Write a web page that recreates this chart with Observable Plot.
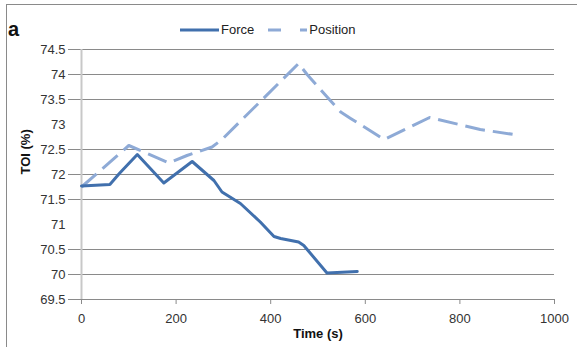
<!DOCTYPE html>
<html>
<head>
<meta charset="utf-8">
<script src="https://cdn.jsdelivr.net/npm/d3@7"></script>
<script src="https://cdn.jsdelivr.net/npm/@observablehq/plot@0.6"></script>
<style>
  html, body { margin: 0; padding: 0; background: #fff; }
  body { width: 577px; height: 347px; position: relative; overflow: hidden; font-family: "Liberation Sans", Arial, sans-serif; }
  #frame { position: absolute; left: 6px; top: 4px; width: 600px; height: 400px; border-left: 1px solid #8a8a8a; border-top: 1px solid #8a8a8a; }
  #chart { position: absolute; left: 0; top: 0; }
  #panel { position: absolute; left: 8px; top: 18px; font: bold 20px "Liberation Sans", Arial, sans-serif; color: #111; }
  #legend { position: absolute; left: 180px; top: 22px; display: flex; align-items: center; font: 13px "Liberation Sans", Arial, sans-serif; color: #222; }
  #legend svg { display: block; }
</style>
</head>
<body>
<div id="frame"></div>
<div id="chart"></div>
<div id="panel">a</div>
<div id="legend"></div>
<script>
// ---- data ----
const seriesNames = ["Force", "Position"];
const seriesColors = ["#4170ad", "#8eaad6"];

const forceTime = [0, 60, 80, 118, 174, 234, 280, 297, 336, 378, 407, 421, 459, 470, 519, 583];
const forceToi  = [71.77, 71.8, 72.02, 72.4, 71.83, 72.26, 71.88, 71.65, 71.42, 71.05, 70.76, 70.72, 70.65, 70.58, 70.03, 70.06];

const positionTime = [0, 100, 185, 223, 276, 297, 459, 477, 526, 548, 569, 640, 736, 843, 914];
const positionToi  = [71.75, 72.58, 72.23, 72.38, 72.55, 72.7, 74.22, 74.0, 73.48, 73.25, 73.12, 72.7, 73.14, 72.9, 72.8];

const xTicks = [0, 200, 400, 600, 800, 1000];
const yTicks = [69.5, 70, 70.5, 71, 71.5, 72, 72.5, 73, 73.5, 74, 74.5];
const yGridTicks = [69.5, 70, 70.5, 71.5, 72, 72.5, 73.5, 74, 74.5];

const xLabel = "Time (s)";
const yLabel = "TOI (%)";

// ---- build tables ----
const forceData = forceTime.map((t, i) => ({time: t, toi: forceToi[i]}));
const positionData = positionTime.map((t, i) => ({time: t, toi: positionToi[i]}));

const plain = d => String(d);

const chart = Plot.plot({
  width: 577,
  height: 347,
  marginLeft: 81,
  marginRight: 23,
  marginTop: 49,
  marginBottom: 48,
  style: {fontFamily: "'Liberation Sans', Arial, sans-serif", fontSize: "13px", color: "#222", background: "transparent"},
  x: {domain: [0, 1000]},
  y: {domain: [69.5, 74.5]},
  marks: [
    Plot.gridY(yGridTicks, {stroke: "#8a8a8a", strokeOpacity: 1, strokeWidth: 1}),
    Plot.axisY(yGridTicks, {tickSize: 13, text: null, stroke: "#8a8a8a", strokeOpacity: 1, label: null}),
    Plot.axisY(yTicks, {tickSize: 0, tickPadding: 16, label: null, fill: "#333", fontSize: 13, tickFormat: plain}),
    Plot.ruleX([0], {stroke: "#c8c8c8", strokeWidth: 2}),
    Plot.ruleY([69.5], {stroke: "#8a8a8a"}),
    Plot.axisX(xTicks, {tickSize: 5, tickPadding: 9, label: null, stroke: "#8a8a8a", fill: "#333", fontSize: 13, tickFormat: plain}),
    Plot.line(positionData, {x: "time", y: "toi", stroke: seriesColors[1], strokeWidth: 3, strokeDasharray: "20,8", strokeLinecap: "butt"}),
    Plot.line(forceData, {x: "time", y: "toi", stroke: seriesColors[0], strokeWidth: 3}),
    Plot.text([yLabel], {frameAnchor: "left", dx: -56, rotate: -90, fontWeight: "bold", fontSize: 13, fill: "#111"}),
    Plot.text([xLabel], {frameAnchor: "bottom", dy: 38, fontWeight: "bold", fontSize: 13, fill: "#111"})
  ]
});
document.getElementById("chart").appendChild(chart);

// ---- legend ----
const legend = document.getElementById("legend");
seriesNames.forEach((name, i) => {
  const sw = document.createElementNS("http://www.w3.org/2000/svg", "svg");
  sw.setAttribute("width", 39);
  sw.setAttribute("height", 10);
  const ln = document.createElementNS("http://www.w3.org/2000/svg", "line");
  ln.setAttribute("x1", 0); ln.setAttribute("x2", 39);
  ln.setAttribute("y1", 5); ln.setAttribute("y2", 5);
  ln.setAttribute("stroke", seriesColors[i]);
  ln.setAttribute("stroke-width", 3);
  if (i === 1) ln.setAttribute("stroke-dasharray", "13,19");
  sw.appendChild(ln);
  const item = document.createElement("div");
  item.style.display = "flex";
  item.style.alignItems = "center";
  item.style.marginRight = i === 0 ? "14px" : "0";
  const label = document.createElement("span");
  label.textContent = name;
  label.style.marginLeft = "2px";
  item.appendChild(sw);
  item.appendChild(label);
  legend.appendChild(item);
});
</script>
</body>
</html>
